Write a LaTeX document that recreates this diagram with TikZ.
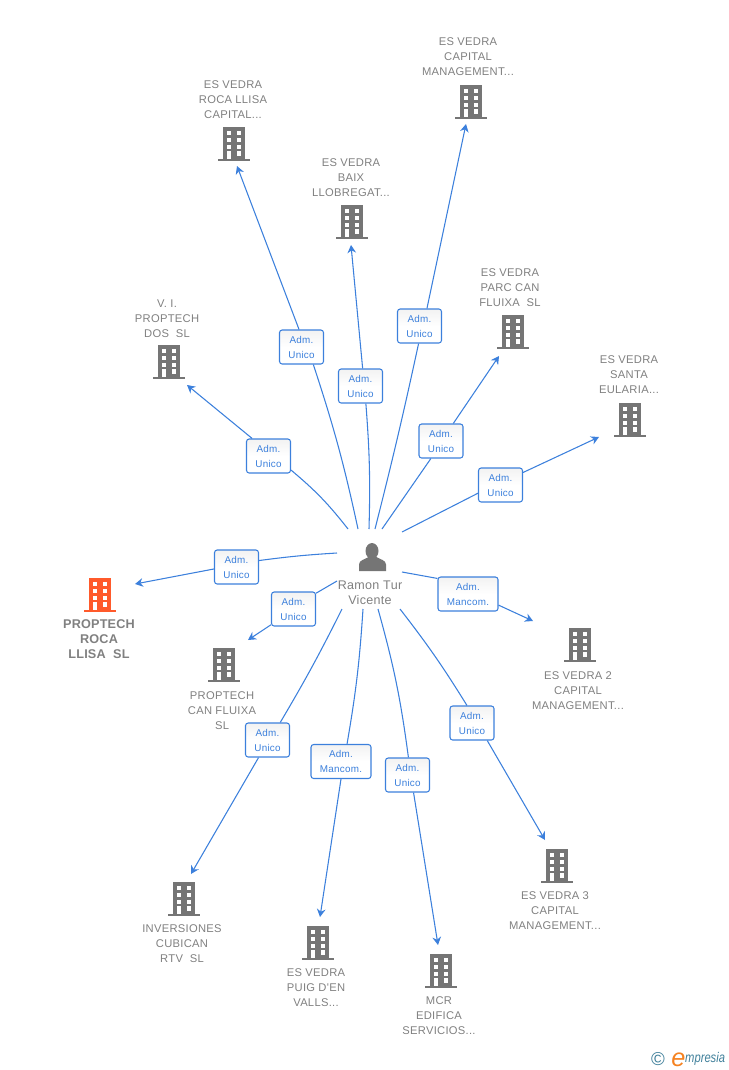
\documentclass[tikz,border=0pt]{standalone}
\usepackage{fontspec}
\usepackage{xcolor}
\usetikzlibrary{arrows.meta}
\setmainfont{Liberation Sans}
\newfontfamily\firmfont[LetterSpace=1.5]{Liberation Sans}
\newfontfamily\namefont[LetterSpace=2.5]{Liberation Sans}
\definecolor{linkblue}{HTML}{3C80DC}
\definecolor{firmgray}{HTML}{757575}
\definecolor{textgray}{HTML}{808080}
\definecolor{firmred}{HTML}{FF5A2B}
\definecolor{logoteal}{HTML}{3F7F9A}
\definecolor{logoorange}{HTML}{F58220}

\tikzset{
  building/.pic={
    \path[pic actions] (-11,-17) rectangle (11,14.7);
    \path[pic actions] (-16,14.7) rectangle (16,17);
    \fill[white] (-7,-13) rectangle (-2.7,-8.7);
    \fill[white] (2.8,-13) rectangle (7.2,-8.7);
    \fill[white] (-7,-6) rectangle (-2.7,-1.7);
    \fill[white] (2.8,-6) rectangle (7.2,-1.7);
    \fill[white] (-7,0.7) rectangle (-2.7,5);
    \fill[white] (2.8,0.7) rectangle (7.2,5);
    \fill[white] (-7,7.3) rectangle (-2.7,14.7);
    \fill[white] (2.8,7.3) rectangle (7.2,11.7);
  },
  firm/.style={align=center,inner sep=0pt,text=textgray,font=\namefont\fontsize{8.4}{11.25}\selectfont},
  mainfirm/.style={align=center,inner sep=0pt,text=textgray,font=\firmfont\bfseries\fontsize{9.5}{11.25}\selectfont},
  role/.style={draw=linkblue,line width=0.8pt,rounded corners=2pt,top color=black!5,bottom color=white,middle color=white,
    text=linkblue,align=center,inner sep=0pt,minimum height=25.5pt,font=\namefont\fontsize{7.4}{11.25}\selectfont},
  unico/.style={role,minimum width=33pt},
  mancom/.style={role,minimum width=45pt},
  link/.style={draw=linkblue,line width=0.8pt},
  linkto/.style={link,-{Stealth[length=6pt,width=6.5pt]}},
}

\begin{document}
\begin{tikzpicture}[x=0.75pt,y=-0.75pt]

\useasboundingbox (0,0) rectangle (728,1070);

	%person
\fill[firmgray] (372,551) ellipse (6.5 and 8);
\fill[firmgray] (359,571) -- (359,564.5) .. controls (359,560) and (365,559.5) .. (368.5,557)
  -- (376.5,557) .. controls (380,559.5) and (386,560) .. (386,564.5) -- (386,571) -- cycle;
\node[firm,font=\namefont\fontsize{9.4}{11.25}\selectfont] (person) at (370,592.5) {Ramon Tur\\Vicente};

	%buildings
\pic[fill=firmgray] (vip) at (169,362) {building};
\pic[fill=firmgray] (rlc) at (234,144) {building};
\pic[fill=firmgray] (baix) at (352,222) {building};
\pic[fill=firmgray] (cap) at (471,102) {building};
\pic[fill=firmgray] (parc) at (513,332) {building};
\pic[fill=firmgray] (santa) at (630,420) {building};
\pic[fill=firmred] (roca) at (100,595) {building};
\pic[fill=firmgray] (fluixa) at (224,665) {building};
\pic[fill=firmgray] (cap2) at (580,645) {building};
\pic[fill=firmgray] (cap3) at (557,866) {building};
\pic[fill=firmgray] (rtv) at (184,899) {building};
\pic[fill=firmgray] (puig) at (318,943) {building};
\pic[fill=firmgray] (mcr) at (441,971) {building};

	%names
\node[firm] (viptxt) at (167,319) {V. I.\\PROPTECH\\DOS\ \ SL};
\node[firm] (rlctxt) at (233,100) {ES VEDRA\\ROCA LLISA\\CAPITAL...};
\node[firm] (baixtxt) at (351,178) {ES VEDRA\\BAIX\\LLOBREGAT...};
\node[firm] (captxt) at (468,57) {ES VEDRA\\CAPITAL\\MANAGEMENT...};
\node[firm] (parctxt) at (510,288) {ES VEDRA\\PARC CAN\\FLUIXA\ \ SL};
\node[firm] (santatxt) at (629,375) {ES VEDRA\\SANTA\\EULARIA...};
\node[mainfirm] (rocatxt) at (99,639) {PROPTECH\\ROCA\\LLISA\ \ SL};
\node[firm] (fluixatxt) at (222,711) {PROPTECH\\CAN FLUIXA\\SL};
\node[firm] (cap2txt) at (578,691) {ES VEDRA 2\\CAPITAL\\MANAGEMENT...};
\node[firm] (cap3txt) at (555,911) {ES VEDRA 3\\CAPITAL\\MANAGEMENT...};
\node[firm] (rtvtxt) at (182,944) {INVERSIONES\\CUBICAN\\RTV\ \ SL};
\node[firm] (puigtxt) at (316,988) {ES VEDRA\\PUIG D'EN\\VALLS...};
\node[firm] (mcrtxt) at (439,1016) {MCR\\EDIFICA\\SERVICIOS...};

	%roles
\node[unico] (rvip) at (268.5,456) {Adm.\\Unico};
\node[unico] (rrlc) at (301.5,347) {Adm.\\Unico};
\node[unico] (rbaix) at (360.5,386) {Adm.\\Unico};
\node[unico] (rcap) at (419.5,326) {Adm.\\Unico};
\node[unico] (rparc) at (441,441) {Adm.\\Unico};
\node[unico] (rsanta) at (500.5,485) {Adm.\\Unico};
\node[unico] (rroca) at (236.5,567) {Adm.\\Unico};
\node[unico] (rfluixa) at (293.5,609) {Adm.\\Unico};
\node[mancom] (rcap2) at (468,594) {Adm.\\Mancom.};
\node[unico] (rcap3) at (472,723) {Adm.\\Unico};
\node[unico] (rrtv) at (267.5,740) {Adm.\\Unico};
\node[mancom] (rpuig) at (341,761.5) {Adm.\\Mancom.};
\node[unico] (rmcr) at (407.5,775) {Adm.\\Unico};

	%free ends near the person
\coordinate (svip) at (348,529);
\coordinate (srlc) at (358,529);
\coordinate (sbaix) at (369,529);
\coordinate (scap) at (375,529);
\coordinate (sparc) at (382,529);
\coordinate (ssanta) at (402,532);
\coordinate (sroca) at (337,553);
\coordinate (sfluixa) at (337,581);
\coordinate (scap2) at (402,572);
\coordinate (scap3) at (400,609);
\coordinate (srtv) at (342,609);
\coordinate (spuig) at (363,609);
\coordinate (smcr) at (378,609);

	%free ends near the buildings
\coordinate (evip) at (187,385);
\coordinate (erlc) at (237,166);
\coordinate (ebaix) at (351,245);
\coordinate (ecap) at (466,124);
\coordinate (eparc) at (499,356);
\coordinate (esanta) at (599,437);
\coordinate (eroca) at (135,584);
\coordinate (efluixa) at (248,640);
\coordinate (ecap2) at (533,621);
\coordinate (ecap3) at (545,840);
\coordinate (ertv) at (191,874);
\coordinate (epuig) at (320,917);
\coordinate (emcr) at (438,945);

	%person to roles
\draw[link] (svip) to[bend right=6] (rvip.-32);
\draw[link] (srlc) to[bend right=3] (rrlc.-56);
\draw[link] (sbaix) to[bend right=3] (rbaix.-73);
\draw[link] (scap) to[bend right=1] (rcap.-93);
\draw[link] (sparc) to (rparc.-120);
\draw[link] (ssanta) to (rsanta.200);
\draw[link] (sroca) to[bend right=2] (rroca.16);
\draw[link] (sfluixa) to (rfluixa.35);
\draw[link] (scap2) to (rcap2.153);
\draw[link] (scap3) to[bend left=3] (rcap3.106);
\draw[link] (srtv) to[bend left=2] (rrtv.54);
\draw[link] (spuig) to[bend left=3] (rpuig.71);
\draw[link] (smcr) to[bend left=4] (rmcr.87);

	%roles to buildings
\draw[linkto] (rvip.133) to (evip);
\draw[linkto] (rrlc.98) to (erlc);
\draw[linkto] (rbaix.83) to (ebaix);
\draw[linkto] (rcap.67) to (ecap);
\draw[linkto] (rparc.55) to (eparc);
\draw[linkto] (rsanta.29) to (esanta);
\draw[linkto] (rroca.185) to (eroca);
\draw[linkto] (rfluixa.215) to (efluixa);
\draw[linkto] (rcap2.-20) to (ecap2);
\draw[linkto] (rcap3.-49) to (ecap3);
\draw[linkto] (rrtv.-117) to (ertv);
\draw[linkto] (rpuig.-90) to (epuig);
\draw[linkto] (rmcr.-71) to (emcr);

	%logo
\node[inner sep=0pt,text=logoteal,font=\fontsize{14}{14}\selectfont] (logoc) at (658,1059) {\textcopyright};
\node[inner sep=0pt,text=logoorange,font=\itshape\fontsize{19}{19}\selectfont] (logoe) at (678.5,1059.5) {e};
\node[inner sep=0pt,anchor=west,xscale=0.8,transform shape,text=logoteal,font=\itshape\fontsize{10.5}{12}\selectfont] (logom) at (685,1059) {mpresia};

\end{tikzpicture}
\end{document}
